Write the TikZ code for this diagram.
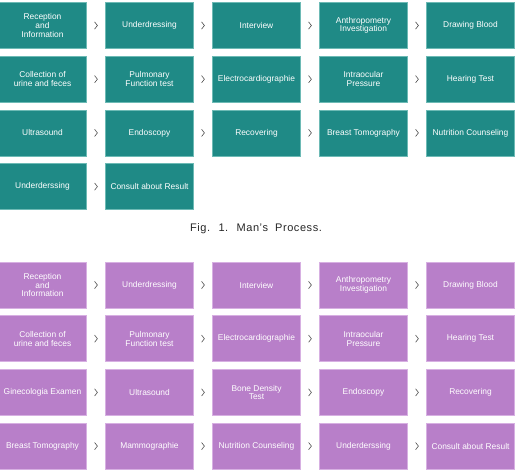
\documentclass[tikz,border=0pt]{standalone}
\usepackage{fontspec}
\setmainfont{Liberation Sans}
\newfontfamily\capfont[LetterSpace=5,WordSpace=2]{Liberation Sans}
\usetikzlibrary{calc}
\definecolor{tealbox}{HTML}{1F8A86}
\definecolor{tealedge}{HTML}{6DBAB5}
\definecolor{purplebox}{HTML}{B87FC9}
\definecolor{purpleedge}{HTML}{D7B0E2}
\definecolor{chevcol}{HTML}{505050}
\tikzset{
  procbox/.style={minimum width=88pt, minimum height=46pt, inner sep=1pt, align=center,
    text=white, font=\fontsize{8.4}{8.6}\selectfont, line width=0.6pt},
  tealstep/.style={procbox, fill=tealbox, draw=tealedge},
  purplestep/.style={procbox, fill=purplebox, draw=purpleedge},
  chev/.style={draw=chevcol, line width=0.6pt},
  captext/.style={font=\capfont\fontsize{11}{12}\selectfont, text=black!85}
}
\begin{document}
\begin{tikzpicture}[x=1pt,y=-1pt]
\useasboundingbox (0,0) rectangle (517,470);
% teal (Man's process)
\node[tealstep] (t11) at (42.5,25.5) {Reception\\and\\Information};
\node[tealstep] (t12) at (149.5,25.5) {Underdressing};
\node[tealstep] (t13) at (256.5,25.5) {Interview};
\node[tealstep] (t14) at (363.5,25.5) {Anthropometry\\Investigation};
\node[tealstep] (t15) at (470.5,25.5) {Drawing Blood};
\node[tealstep] (t21) at (42.5,79.2) {Collection of\\urine and feces};
\node[tealstep] (t22) at (149.5,79.2) {Pulmonary\\Function test};
\node[tealstep] (t23) at (256.5,79.2) {Electrocardiographie};
\node[tealstep] (t24) at (363.5,79.2) {Intraocular\\Pressure};
\node[tealstep] (t25) at (470.5,79.2) {Hearing Test};
\node[tealstep] (t31) at (42.5,132.9) {Ultrasound};
\node[tealstep] (t32) at (149.5,132.9) {Endoscopy};
\node[tealstep] (t33) at (256.5,132.9) {Recovering};
\node[tealstep] (t34) at (363.5,132.9) {Breast Tomography};
\node[tealstep] (t35) at (470.5,132.9) {Nutrition Counseling};
\node[tealstep] (t41) at (42.5,186.6) {Underderssing};
\node[tealstep] (t42) at (149.5,186.6) {Consult about Result};
\node[captext] (cap) at (256,229) {Fig. 1. Man’s Process.};
% purple
\node[purplestep] (p11) at (42.5,285) {Reception\\and\\Information};
\node[purplestep] (p12) at (149.5,285) {Underdressing};
\node[purplestep] (p13) at (256.5,285) {Interview};
\node[purplestep] (p14) at (363.5,285) {Anthropometry\\Investigation};
\node[purplestep] (p15) at (470.5,285) {Drawing Blood};
\node[purplestep] (p21) at (42.5,338.7) {Collection of\\urine and feces};
\node[purplestep] (p22) at (149.5,338.7) {Pulmonary\\Function test};
\node[purplestep] (p23) at (256.5,338.7) {Electrocardiographie};
\node[purplestep] (p24) at (363.5,338.7) {Intraocular\\Pressure};
\node[purplestep] (p25) at (470.5,338.7) {Hearing Test};
\node[purplestep] (p31) at (42.5,392.4) {Ginecologia Examen};
\node[purplestep] (p32) at (149.5,392.4) {Ultrasound};
\node[purplestep] (p33) at (256.5,392.4) {Bone Density\\Test};
\node[purplestep] (p34) at (363.5,392.4) {Endoscopy};
\node[purplestep] (p35) at (470.5,392.4) {Recovering};
\node[purplestep] (p41) at (42.5,446.1) {Breast Tomography};
\node[purplestep] (p42) at (149.5,446.1) {Mammographie};
\node[purplestep] (p43) at (256.5,446.1) {Nutrition Counseling};
\node[purplestep] (p44) at (363.5,446.1) {Underderssing};
\node[purplestep] (p45) at (470.5,446.1) {Consult about Result};
% chevrons
\foreach \a/\b in {t11/t12,t12/t13,t13/t14,t14/t15,
                   t21/t22,t22/t23,t23/t24,t24/t25,
                   t31/t32,t32/t33,t33/t34,t34/t35,
                   t41/t42,
                   p11/p12,p12/p13,p13/p14,p14/p15,
                   p21/p22,p22/p23,p23/p24,p24/p25,
                   p31/p32,p32/p33,p33/p34,p34/p35,
                   p41/p42,p42/p43,p43/p44,p44/p45}
  \draw[chev] ($(\a.east)!0.5!(\b.west)$) +(-1.4,-3.6) -- +(1.4,0) -- +(-1.4,3.6);
\end{tikzpicture}
\end{document}
